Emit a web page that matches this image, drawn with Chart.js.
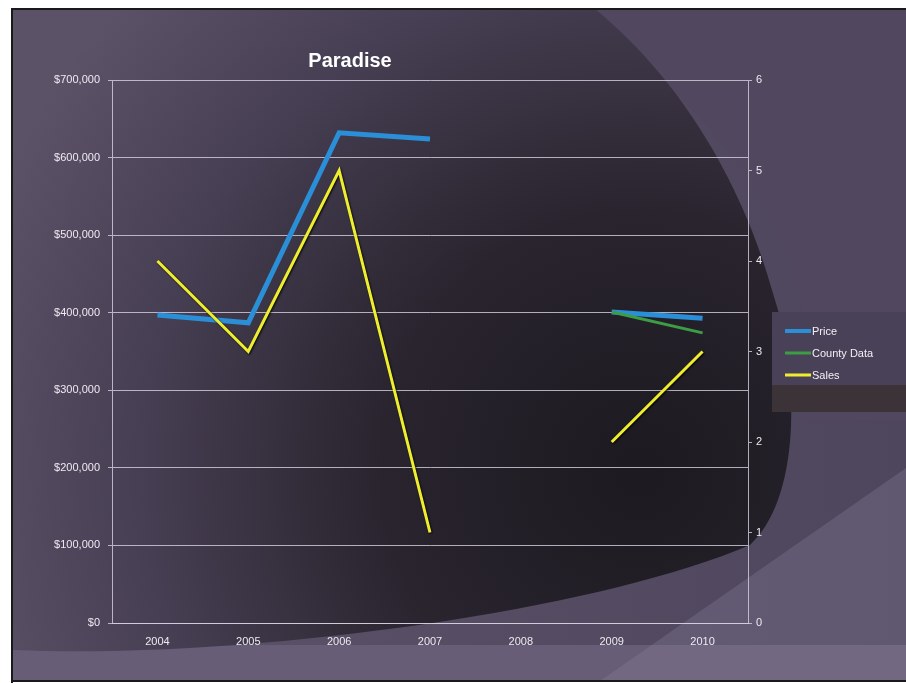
<!DOCTYPE html>
<html>
<head>
<meta charset="utf-8">
<script src="https://cdn.jsdelivr.net/npm/chart.js@4"></script>
<style>
  html,body{margin:0;padding:0;background:#fff;}
  #wrap{width:906px;height:683px;position:relative;}
</style>
</head>
<body>
<div id="wrap"><canvas id="c" width="906" height="683"></canvas></div>
<script>
const chartTitle = "Paradise";
const categories = ["2004","2005","2006","2007","2008","2009","2010"];
const priceValues = [397000, 387000, 632000, 624000, null, 401000, 393000];
const countyValues = [null, null, null, null, null, 401000, 374000];
const salesValues = [4, 3, 5, 1, null, 2, 3];
const seriesNames = ["Price", "County Data", "Sales"];
const seriesColors = ["#2b8fd8", "#3c9d45", "#eeee2e"];
const leftTicks = [0, 100000, 200000, 300000, 400000, 500000, 600000, 700000];
const rightTicks = [0, 1, 2, 3, 4, 5, 6];

const FONT = "'Liberation Sans', Arial, sans-serif";

const bgPlugin = {
  id: 'bg',
  beforeDraw(chart) {
    const ctx = chart.ctx;
    const W = chart.width, H = chart.height;
    ctx.save();
    ctx.fillStyle = '#ffffff';
    ctx.fillRect(0, 0, W, H);
    const x0 = 13, y0 = 9, x1 = W, y1 = 681;
    let g = ctx.createLinearGradient(x0, 0, x1, 0);
    g.addColorStop(0, '#5e546b');
    g.addColorStop(1, '#4e465c');
    ctx.fillStyle = g;
    ctx.fillRect(x0, y0, x1 - x0, y1 - y0);
    // bottom light band
    ctx.fillStyle = '#675d76';
    ctx.fillRect(x0, 645, x1 - x0, y1 - 645);
    // subtle arc band top right
    ctx.beginPath();
    ctx.moveTo(560, y0);
    ctx.bezierCurveTo(760, 120, 830, 300, 800, 420);
    ctx.lineTo(906, 420);
    ctx.lineTo(906, y0);
    ctx.closePath();
    ctx.fillStyle = '#514860';
    ctx.fill();
    // dark shape
    ctx.beginPath();
    ctx.moveTo(x0, 650);
    ctx.bezierCurveTo(250, 660, 600, 610, 750, 545);
    ctx.bezierCurveTo(800, 500, 800, 380, 775, 300);
    ctx.bezierCurveTo(740, 170, 670, 70, 595, y0);
    ctx.lineTo(x0, y0);
    ctx.closePath();
    const rg = ctx.createRadialGradient(640, 470, 20, 640, 470, 700);
    rg.addColorStop(0, '#1d1a21');
    rg.addColorStop(0.35, '#29242e');
    rg.addColorStop(0.7, '#463e52');
    rg.addColorStop(1, '#5c5268');
    ctx.fillStyle = rg;
    ctx.fill();
    // lower right light wedge
    ctx.beginPath();
    ctx.moveTo(600, y1);
    ctx.lineTo(906, 468);
    ctx.lineTo(906, y1);
    ctx.closePath();
    ctx.fillStyle = 'rgba(140,128,160,0.3)';
    ctx.fill();
    // legend area patches
    ctx.fillStyle = '#484157';
    ctx.fillRect(772, 312, 906 - 772, 73);
    ctx.fillStyle = '#3c3339';
    ctx.fillRect(772, 385, 906 - 772, 27);
    // frame lines
    ctx.strokeStyle = '#1a1a1a';
    ctx.lineWidth = 2;
    ctx.beginPath();
    ctx.moveTo(12, H);
    ctx.lineTo(12, 9);
    ctx.lineTo(W, 9);
    ctx.stroke();
    ctx.beginPath();
    ctx.moveTo(12, 681);
    ctx.lineTo(W, 681);
    ctx.stroke();
    ctx.restore();
  },
  afterDraw(chart) {
    const ctx = chart.ctx;
    ctx.save();
    ctx.fillStyle = '#ffffff';
    ctx.font = 'bold 20px ' + FONT;
    ctx.textAlign = 'center';
    ctx.textBaseline = 'middle';
    ctx.fillText(chartTitle, 350, 61);
    ctx.font = '11px ' + FONT;
    ctx.textAlign = 'left';
    const widths = [4, 3, 3];
    chart.data.datasets.forEach((ds, i) => {
      const y = 331 + i * 22;
      ctx.strokeStyle = ds.borderColor;
      ctx.lineWidth = widths[i];
      ctx.beginPath();
      ctx.moveTo(785, y);
      ctx.lineTo(811, y);
      ctx.stroke();
      ctx.fillStyle = '#f2f0f6';
      ctx.fillText(ds.label, 812, y + 1);
    });
    ctx.restore();
  },
  beforeDatasetDraw(chart, args) {
    if (args.index === 2) {
      const ctx = chart.ctx;
      ctx.save();
      ctx.shadowColor = 'rgba(0,0,0,0.85)';
      ctx.shadowBlur = 2;
      ctx.shadowOffsetX = 1;
      ctx.shadowOffsetY = 1;
    }
  },
  afterDatasetDraw(chart, args) {
    if (args.index === 2) chart.ctx.restore();
  }
};

const tickColor = '#eeeaf2';
const gridColor = 'rgba(215,210,225,0.8)';

new Chart(document.getElementById('c'), {
  type: 'line',
  data: {
    labels: categories,
    datasets: [
      { label: seriesNames[0], data: priceValues, borderColor: seriesColors[0], backgroundColor: seriesColors[0],
        borderWidth: 5, pointRadius: 0, pointHoverRadius: 0, yAxisID: 'y', order: 2, spanGaps: false, tension: 0 },
      { label: seriesNames[1], data: countyValues, borderColor: seriesColors[1], backgroundColor: seriesColors[1],
        borderWidth: 3, pointRadius: 0, pointHoverRadius: 0, yAxisID: 'y', order: 1, spanGaps: false, tension: 0 },
      { label: seriesNames[2], data: salesValues, borderColor: seriesColors[2], backgroundColor: seriesColors[2],
        borderWidth: 3, pointRadius: 0, pointHoverRadius: 0, yAxisID: 'y1', order: 0, spanGaps: false, tension: 0 }
    ]
  },
  options: {
    responsive: false,
    animation: false,
    events: [],
    layout: { padding: { top: 80, left: 0, right: 0, bottom: 0 } },
    plugins: { legend: { display: false }, title: { display: false }, tooltip: { enabled: false } },
    scales: {
      x: {
        offset: true,
        grid: { display: false, drawTicks: false },
        border: { display: true, color: gridColor, width: 1 },
        ticks: { color: tickColor, font: { family: FONT, size: 11 }, padding: 12, maxRotation: 0 },
        afterFit(scale) { scale.height = 60; }
      },
      y: {
        position: 'left',
        min: 0, max: 700000,
        afterBuildTicks(scale) { scale.ticks = leftTicks.map(v => ({ value: v })); },
        grid: { color: gridColor, lineWidth: 1, drawTicks: true, tickLength: 4 },
        border: { display: true, color: gridColor, width: 1 },
        ticks: {
          color: tickColor, font: { family: FONT, size: 11 }, padding: 8,
          callback: v => '$' + Number(v).toLocaleString('en-US')
        },
        afterFit(scale) { scale.width = 112; }
      },
      y1: {
        position: 'right',
        min: 0, max: 6,
        afterBuildTicks(scale) { scale.ticks = rightTicks.map(v => ({ value: v })); },
        grid: { drawOnChartArea: false, color: gridColor, drawTicks: true, tickLength: 4 },
        border: { display: true, color: gridColor, width: 1 },
        ticks: { color: tickColor, font: { family: FONT, size: 11 }, padding: 4 },
        afterFit(scale) { scale.width = 158; }
      }
    }
  },
  plugins: [bgPlugin]
});
</script>
</body>
</html>
